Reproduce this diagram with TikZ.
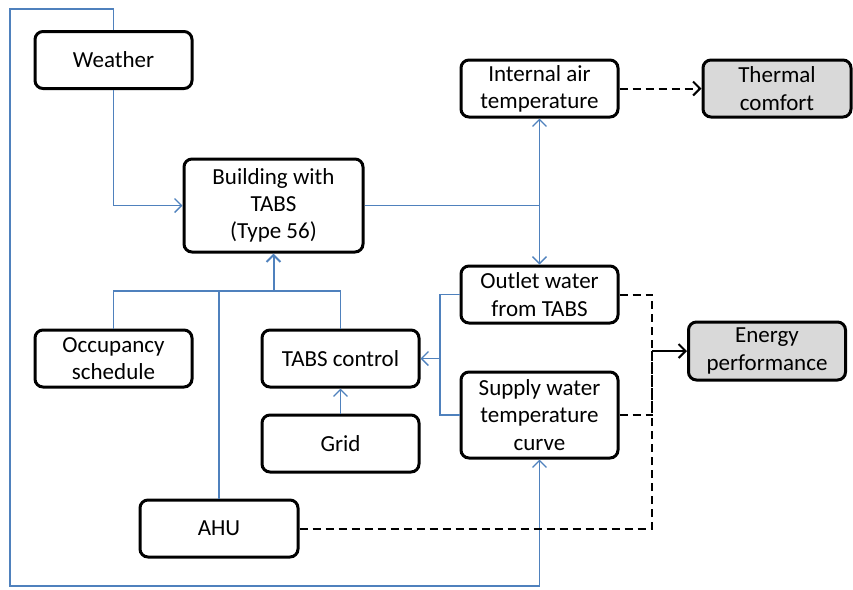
\documentclass[tikz,border=0pt]{standalone}
\usepackage{fontspec}
\setmainfont{Carlito}
\usetikzlibrary{arrows.meta}
\definecolor{linkblue}{HTML}{4F81BD}
\definecolor{outgray}{HTML}{D9D9D9}
\tikzset{
  block/.style={draw,line width=1.5pt,rounded corners=4pt,fill=white,align=center,
    minimum width=78.5pt,minimum height=28.5pt,inner sep=1pt,
    font=\fontsize{11.5}{13.6}\selectfont},
  result/.style={block,fill=outgray},
  link/.style={draw=linkblue,line width=0.7pt,arrows={-Straight Barb[length=3.5pt,width=7pt]}},
  plain/.style={draw=linkblue,line width=0.7pt},
  dep/.style={draw=black,line width=1pt,dash pattern=on 4pt off 2.5pt},
}
\begin{document}
\begin{tikzpicture}
\begin{scope}[x=0.5pt,y=-0.5pt]
\useasboundingbox (0,0) rectangle (853,590);

% blocks
\node[block] (wth) at (113.5,60) {Weather};
\node[block,minimum width=89.5pt,minimum height=46.5pt] (bld) at (273.5,205.5) {Building with\\TABS\\(Type 56)};
\node[block] (iat) at (539.5,88.5) {Internal air\\temperature};
\node[result,minimum width=74pt] (tc) at (777,88.5) {Thermal\\comfort};
\node[block] (out) at (539.5,294.5) {Outlet water\\from TABS};
\node[block,minimum height=43pt] (sup) at (539.5,415) {Supply water\\temperature\\curve};
\node[result,minimum height=29pt] (ep) at (767,351) {Energy\\performance};
\node[block] (occ) at (113.5,358.5) {Occupancy\\schedule};
\node[block] (ctl) at (340.5,358.5) {TABS control};
\node[block] (grd) at (340.5,443.5) {Grid};
\node[block,minimum width=79pt] (ahu) at (219,528.5) {AHU};

% junctions
\coordinate (jb) at (273.5,291);
\coordinate (jc) at (440,358.5);
\coordinate (je) at (652,351);

% inputs to the building
\draw[link] (wth.south) |- (bld.west);
\draw[plain] (occ.north) |- (jb);
\draw[plain] (ahu.north) |- (jb);
\draw[plain] (ctl.north) |- (jb);
\draw[link,line width=1pt] (jb) -- (bld.south);

% weather loop to supply curve
\draw[link] (wth.north) |- (10,9) -- (10,586) -| (sup.south);

% building outputs
\draw[plain,line width=0.9pt] (bld.east) -- (bld.east -| iat.south);
\draw[link,arrows={Straight Barb[length=3.5pt,width=7pt]-Straight Barb[length=3.5pt,width=7pt]}] (iat.south) -- (out.north);

% control loop
\draw[plain] (out.west) -| (jc) |- (sup.west);
\draw[link] (jc) -- (ctl.east);
\draw[link] (grd.north) -- (ctl.south);

% indicators
\draw[dep,-{Straight Barb[length=3.5pt,width=7pt]}] (iat.east) -- (tc.west);
\draw[dep] (out.east) -| (je);
\draw[dep] (sup.east) -| (je);
\draw[dep] (ahu.east) -| (je);
\draw[black,line width=1pt,-{Straight Barb[length=3.5pt,width=7pt]}] (je) -- (ep.west);

\end{scope}
\end{tikzpicture}
\end{document}
